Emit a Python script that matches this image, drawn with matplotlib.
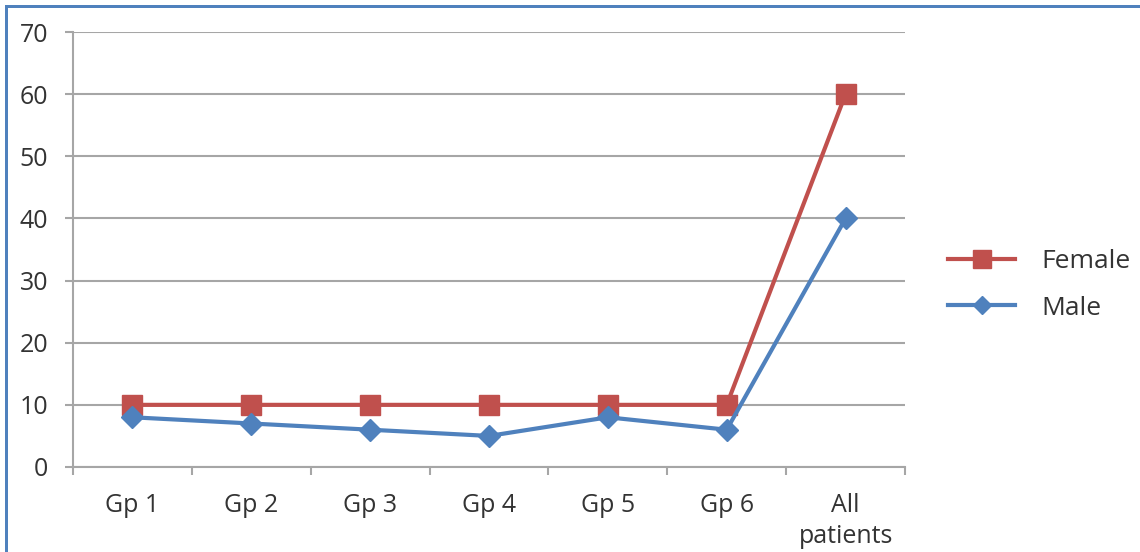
import matplotlib
matplotlib.use("Agg")
import matplotlib.pyplot as plt
from matplotlib.patches import Rectangle
from matplotlib.lines import Line2D

categories = ["Gp 1", "Gp 2", "Gp 3", "Gp 4", "Gp 5", "Gp 6", "All\npatients"]
female = [10, 10, 10, 10, 10, 10, 60]
male = [8, 7, 6, 5, 8, 6, 40]
y_ticks = [0, 10, 20, 30, 40, 50, 60, 70]

RED = "#C0504D"
BLUE = "#4F81BD"
GRID = "#A6A6A6"
TEXT = "#333333"
FS = 18

plt.rcParams["font.family"] = ["Open Sans", "DejaVu Sans"]

fig = plt.figure(figsize=(11.4, 5.52), dpi=100)
ax = fig.add_axes([73 / 1140, 1 - 467 / 552, (905 - 73) / 1140, (467 - 32) / 552])

x = list(range(len(categories)))
ax.plot(x, female, color=RED, lw=3, marker="s", markersize=15, label="Female",
        solid_joinstyle="round", zorder=3)
ax.plot(x, male, color=BLUE, lw=3, marker="D", markersize=11, label="Male",
        solid_joinstyle="round", zorder=4)

ax.set_xlim(-0.5, len(categories) - 0.5)
ax.set_ylim(0, 70)
ax.set_yticks(y_ticks)
ax.set_yticklabels([str(v) for v in y_ticks], fontsize=FS, color=TEXT)
ax.yaxis.grid(True, color=GRID, lw=1.5)
ax.set_axisbelow(True)

# category labels centred, tick marks on the category boundaries
ax.set_xticks(x)
ax.set_xticklabels(categories, fontsize=FS, color=TEXT, linespacing=1.3)
ax.tick_params(axis="x", length=0, pad=19)
ax.set_xticks([i - 0.5 for i in range(len(categories) + 1)], minor=True)
ax.tick_params(axis="x", which="minor", length=6, width=1.5, color=GRID, direction="out")
ax.tick_params(axis="y", length=6, width=1.5, color=GRID, direction="out", pad=12)

for side in ("top", "right"):
    ax.spines[side].set_visible(False)
for side in ("left", "bottom"):
    ax.spines[side].set_color(GRID)
    ax.spines[side].set_linewidth(1.5)

handles = [
    Line2D([], [], color=RED, lw=3, marker="s", markersize=13),
    Line2D([], [], color=BLUE, lw=3, marker="D", markersize=9),
]
fig.legend(handles, ["Female", "Male"], loc="center left",
           bbox_to_anchor=(948 / 1140, 1 - 285 / 552), frameon=False,
           fontsize=19, handlelength=2.55, labelspacing=0.8, handletextpad=1.0,
           borderpad=0, borderaxespad=0, labelcolor=TEXT)

# frame lines along the top and left edges
fig.add_artist(Rectangle((5 / 1140, -0.1), 3 / 1140, 1.1 - 5 / 552, transform=fig.transFigure,
                         color=BLUE, lw=0))
fig.add_artist(Rectangle((5 / 1140, 1 - 8 / 552), 1.1, 3 / 552, transform=fig.transFigure,
                         color=BLUE, lw=0))

fig.savefig("out.png", dpi=100)
